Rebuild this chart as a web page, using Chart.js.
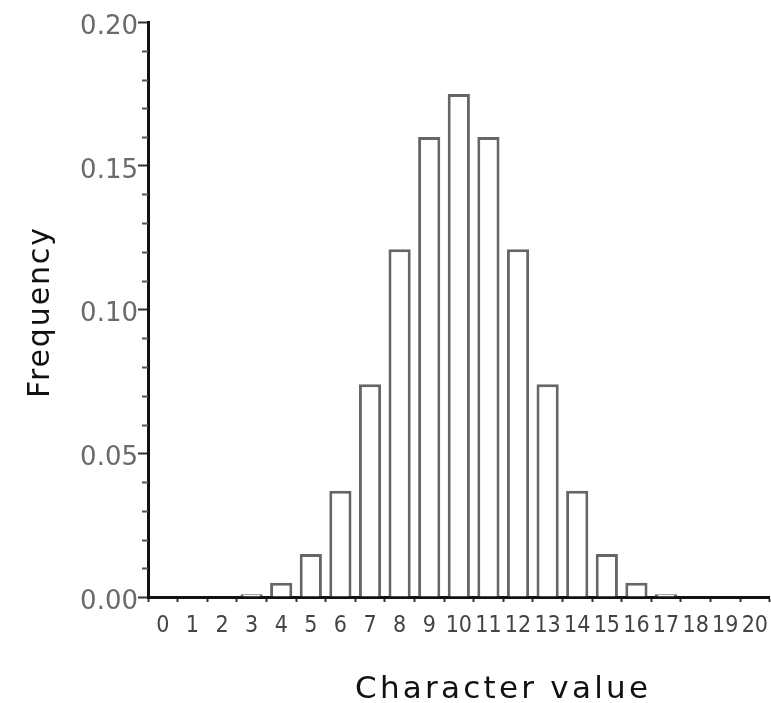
<!DOCTYPE html>
<html>
<head>
<meta charset="utf-8">
<script src="https://cdn.jsdelivr.net/npm/chart.js@4/dist/chart.umd.min.js"></script>
<style>
  html, body { margin: 0; padding: 0; background: #fff; overflow: hidden; }
  canvas { display: block; }
</style>
</head>
<body>
<canvas id="c" width="778" height="703"></canvas>
<script>
// ---- data ----
const categories = ['0','1','2','3','4','5','6','7','8','9','10','11','12','13','14','15','16','17','18','19','20'];
const frequency  = [0, 0, 0, 0.001, 0.005, 0.015, 0.037, 0.074, 0.121, 0.160, 0.175, 0.160, 0.121, 0.074, 0.037, 0.015, 0.005, 0.001, 0, 0, 0];
const yMajorLabels = ['0.00', '0.05', '0.10', '0.15', '0.20'];
const xTitle = 'Character value';
const yTitle = 'Frequency';

const minorTicks = {
  id: 'minorTicks',
  afterDraw(chart) {
    const y = chart.scales.y, ctx = chart.ctx, left = chart.chartArea.left;
    ctx.save();
    ctx.strokeStyle = '#555';
    ctx.lineWidth = 2;
    for (let k = 1; k < 20; k++) {
      if (k % 5 === 0) continue;
      const py = Math.round(y.getPixelForValue(k / 100)) + 0.5;
      ctx.beginPath();
      ctx.moveTo(left - 6, py);
      ctx.lineTo(left, py);
      ctx.stroke();
    }
    ctx.restore();
  }
};

function spacedText(ctx, text, x, y, targetWidth) {
  ctx.letterSpacing = '0px';
  const w0 = ctx.measureText(text).width;
  const sp = (targetWidth - w0) / (text.length - 1);
  ctx.letterSpacing = sp + 'px';
  ctx.fillText(text, x, y);
  ctx.letterSpacing = '0px';
}

const axisTitles = {
  id: 'axisTitles',
  afterDraw(chart) {
    const ctx = chart.ctx;
    ctx.save();
    ctx.fillStyle = '#111';
    ctx.textAlign = 'left';
    ctx.textBaseline = 'alphabetic';
    ctx.font = '31px "DejaVu Sans"';
    spacedText(ctx, xTitle, 355, 698, 293);
    ctx.restore();

    ctx.save();
    ctx.fillStyle = '#111';
    ctx.textAlign = 'left';
    ctx.textBaseline = 'alphabetic';
    ctx.font = '30px "DejaVu Sans"';
    ctx.translate(49, 398);
    ctx.rotate(-Math.PI / 2);
    spacedText(ctx, yTitle, 0, 0, 170);
    ctx.restore();
  }
};

new Chart(document.getElementById('c'), {
  type: 'bar',
  data: {
    labels: categories,
    datasets: [{
      data: frequency,
      backgroundColor: '#ffffff',
      borderColor: '#666666',
      borderWidth: 3,
      barPercentage: 0.75,
      categoryPercentage: 1.0
    }]
  },
  options: {
    responsive: false,
    animation: false,
    devicePixelRatio: 1,
    layout: { padding: { top: 22, left: 0, right: 0, bottom: 0 } },
    plugins: { legend: { display: false }, tooltip: { enabled: false }, title: { display: false } },
    scales: {
      x: {
        type: 'category',
        offset: true,
        grid: { display: true, offset: true, drawOnChartArea: false, drawTicks: true, tickLength: 5, tickColor: '#333', tickWidth: 2 },
        border: { display: true, color: '#111', width: 3 },
        ticks: {
          autoSkip: false, maxRotation: 0, minRotation: 0, padding: 10,
          color: '#444',
          font: { family: '"DejaVu Sans Condensed", "DejaVu Sans"', size: 23 }
        },
        afterFit(scale) { scale.height = 106; }
      },
      y: {
        type: 'linear',
        min: 0, max: 0.2,
        grid: {
          display: true, drawOnChartArea: false, drawTicks: true, tickLength: 10,
          tickColor: (c) => (Math.round(c.tick.value * 100) % 5 === 0 ? '#333' : 'rgba(0,0,0,0)'),
          tickWidth: 2
        },
        border: { display: true, color: '#111', width: 3 },
        ticks: {
          stepSize: 0.01, autoSkip: false, padding: 0, labelOffset: 5,
          color: '#6a6a6a',
          font: { family: '"DejaVu Sans"', size: 26 },
          callback: (v) => {
            const k = Math.round(v * 100);
            return k % 5 === 0 ? yMajorLabels[k / 5] : '';
          }
        },
        afterFit(scale) { scale.width = 148; }
      }
    }
  },
  plugins: [minorTicks, axisTitles]
});
</script>
</body>
</html>
